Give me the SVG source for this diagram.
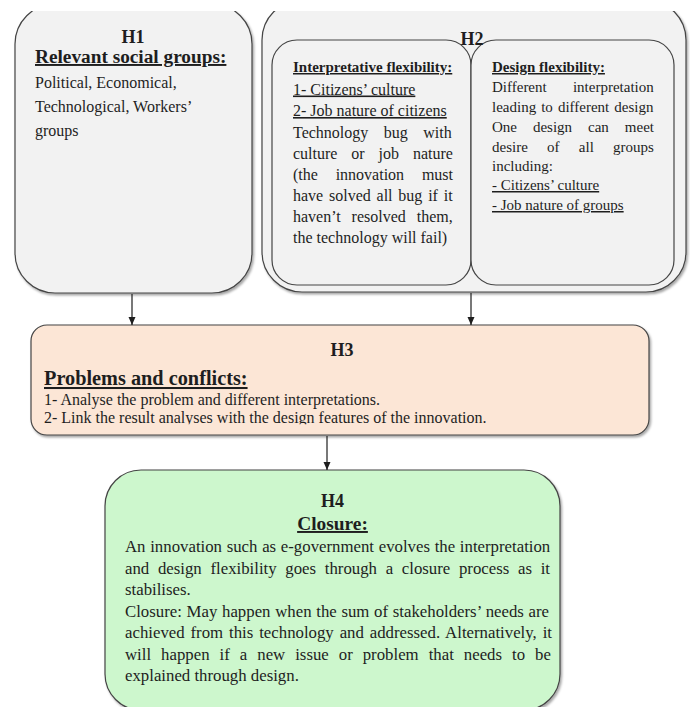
<svg xmlns="http://www.w3.org/2000/svg" width="690" height="707" viewBox="0 0 690 707">
<style>
text{font-family:"Liberation Serif","Times New Roman",serif;fill:#1e1e1e}
.box{stroke:#454545;stroke-width:1.2;filter:url(#sh)}
.gray{fill:#f2f2f2}
.ttl{font-weight:bold;font-size:18px;text-anchor:middle}
.hd{font-weight:bold;text-decoration:underline}
.u{text-decoration:underline}
.conn{stroke:#1e1e1e;stroke-width:1.2;fill:none;marker-end:url(#ah)}
</style>
<defs>
<filter id="sh" x="-10%" y="-10%" width="125%" height="125%">
<feDropShadow dx="1.5" dy="2" stdDeviation="1.3" flood-color="#000" flood-opacity="0.35"/>
</filter>
<marker id="ah" viewBox="0 0 8 8" refX="8" refY="4" markerWidth="8" markerHeight="8" markerUnits="userSpaceOnUse" orient="auto">
<path d="M0,0.5 L8,4 L0,7.5 z" fill="#1e1e1e"/>
</marker>
<clipPath id="crop"><rect x="0" y="11" width="690" height="700"/></clipPath>
<clipPath id="desc"><rect x="0" y="300" width="690" height="124.3"/></clipPath>
</defs>
<g clip-path="url(#crop)">
<g id="H1">
<rect class="box gray" x="15" y="4" width="237" height="289" rx="40"/>
<text class="ttl" x="133" y="43">H1</text>
<text class="hd" x="35" y="63" font-size="19.3">Relevant social groups:</text>
<text x="35" y="88" font-size="16">Political, Economical,</text>
<text x="35" y="112" font-size="16">Technological, Workers’</text>
<text x="35" y="136" font-size="16">groups</text>
</g>
<g id="H2">
<rect class="box gray" x="262" y="0" width="424" height="292" rx="40"/>
<rect class="box gray" x="272" y="40" width="199" height="245" rx="25" style="filter:none"/>
<rect class="box gray" x="471" y="40" width="203" height="245" rx="25" style="filter:none"/>
<text class="ttl" x="472" y="45">H2</text>
<g id="H2-interpretative">
<text class="hd" x="293" y="72" font-size="15">Interpretative flexibility:</text>
<text class="u" x="293" y="94.5" font-size="16">1- Citizens’ culture</text>
<text class="u" x="293" y="116" font-size="16">2- Job nature of citizens</text>
<text x="293" y="137.5" font-size="16" word-spacing="11.5">Technology bug with</text>
<text x="293" y="158.5" font-size="16" word-spacing="9.9">culture or job nature</text>
<text x="293" y="180" font-size="16" word-spacing="13.8">(the innovation must</text>
<text x="293" y="201" font-size="16" word-spacing="1.8">have solved all bug if it</text>
<text x="293" y="222" font-size="16" word-spacing="6.9">haven’t resolved them,</text>
<text x="293" y="243" font-size="16">the technology will fail)</text>
</g>
<g id="H2-design">
<text class="hd" x="492" y="72" font-size="15">Design flexibility:</text>
<text x="492" y="92" font-size="15" word-spacing="22.5">Different interpretation</text>
<text x="492" y="112" font-size="15" word-spacing="1.3">leading to different design</text>
<text x="492" y="132" font-size="15" word-spacing="12.2">One design can meet</text>
<text x="492" y="152" font-size="15" word-spacing="15.5">desire of all groups</text>
<text x="492" y="171" font-size="15">including:</text>
<text class="u" x="492" y="190" font-size="15">- Citizens’ culture</text>
<text class="u" x="492" y="210" font-size="15">- Job nature of groups</text>
</g>
</g>
</g>
<g id="H3">
<rect class="box" fill="#fce6d6" x="31" y="325" width="618" height="110" rx="16"/>
<text class="ttl" x="342" y="356">H3</text>
<text class="hd" x="44" y="385" font-size="20.3">Problems and conflicts:</text>
<text x="44" y="405" font-size="16">1- Analyse the problem and different interpretations.</text>
<text x="44" y="423" font-size="16" clip-path="url(#desc)">2- Link the result analyses with the design features of the innovation.</text>
</g>
<g id="H4">
<rect class="box" fill="#cdf7cd" x="105" y="470" width="455" height="240" rx="36"/>
<text class="ttl" x="332.5" y="507">H4</text>
<text class="hd" x="332.5" y="530" font-size="19.4" text-anchor="middle">Closure:</text>
<text x="125" y="552" font-size="16.8" word-spacing="0.5">An innovation such as e-government evolves the interpretation</text>
<text x="125" y="573.5" font-size="16.8" word-spacing="4.5">and design flexibility goes through a closure process as it</text>
<text x="125" y="595" font-size="16.8">stabilises.</text>
<text x="125" y="616.5" font-size="16.8" word-spacing="0.5">Closure: May happen when the sum of stakeholders’ needs are</text>
<text x="125" y="638" font-size="16.8" word-spacing="1.7">achieved from this technology and addressed. Alternatively, it</text>
<text x="125" y="659.5" font-size="16.8" word-spacing="5.8">will happen if a new issue or problem that needs to be</text>
<text x="125" y="681" font-size="16.8">explained through design.</text>
</g>
<g id="connectors">
<line class="conn" x1="132" y1="294" x2="132" y2="325"/>
<line class="conn" x1="471" y1="293" x2="471" y2="325"/>
<line class="conn" x1="327" y1="436" x2="327" y2="470"/>
</g>
</svg>
